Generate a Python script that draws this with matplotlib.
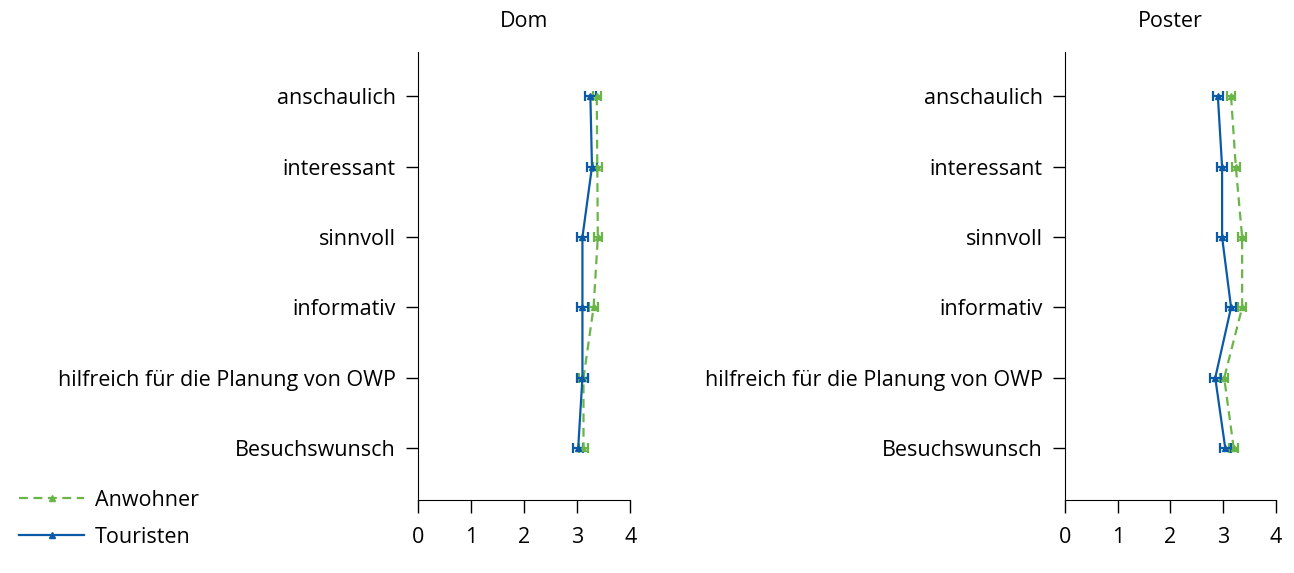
import numpy as np
import matplotlib.pyplot as plt
from matplotlib.lines import Line2D

plt.rcParams['font.family'] = ['Open Sans', 'DejaVu Sans']

# categories, top to bottom
categories = ['anschaulich', 'interessant', 'sinnvoll', 'informativ',
              'hilfreich für die Planung von OWP', 'Besuchswunsch']

# Dom
dom_anwohner = [3.37, 3.38, 3.39, 3.31, 3.12, 3.12]
dom_anwohner_err = [0.08, 0.08, 0.08, 0.08, 0.09, 0.08]
dom_touristen = [3.25, 3.28, 3.10, 3.10, 3.10, 3.02]
dom_touristen_err = [0.1, 0.1, 0.1, 0.1, 0.1, 0.1]

# Poster
poster_anwohner = [3.15, 3.24, 3.36, 3.36, 3.02, 3.20]
poster_anwohner_err = [0.08, 0.08, 0.08, 0.08, 0.08, 0.08]
poster_touristen = [2.90, 2.98, 2.98, 3.15, 2.85, 3.04]
poster_touristen_err = [0.1, 0.1, 0.1, 0.1, 0.1, 0.1]

green = '#6ab547'
blue = '#0a5aa8'
fs = 15.5

fig = plt.figure(figsize=(12.94, 5.73), dpi=100)
ax1 = fig.add_axes([0.323, 0.127, 0.164, 0.782])
ax2 = fig.add_axes([0.823, 0.127, 0.163, 0.782])

ypos = np.arange(len(categories))[::-1]

panels = [(ax1, 'Dom', dom_anwohner, dom_anwohner_err, dom_touristen, dom_touristen_err),
          (ax2, 'Poster', poster_anwohner, poster_anwohner_err, poster_touristen, poster_touristen_err)]

for ax, title, a, ae, t, te in panels:
    ax.errorbar(a, ypos, xerr=ae, color=green, ls=(0, (4, 2.5)), lw=1.6, marker='^', ms=4,
                capsize=3.5, elinewidth=1.6, capthick=1.6)
    ax.errorbar(t, ypos, xerr=te, color=blue, ls='-', lw=1.6, marker='^', ms=4,
                capsize=3.5, elinewidth=1.6, capthick=1.6)
    ax.set_xlim(0, 4)
    ax.set_ylim(-0.74, 5.63)
    ax.set_xticks([0, 1, 2, 3, 4])
    ax.set_yticks(ypos)
    ax.set_yticklabels(categories)
    ax.tick_params(labelsize=fs, length=9, width=1, pad=7)
    ax.tick_params(axis='x', pad=10)
    ax.spines['top'].set_visible(False)
    ax.spines['right'].set_visible(False)
    ax.set_title(title, fontsize=fs, pad=18)

handles = [Line2D([], [], color=green, ls=(0, (4, 2.5)), lw=1.6, marker='^', ms=5),
           Line2D([], [], color=blue, ls='-', lw=1.6, marker='^', ms=5)]
fig.legend(handles, ['Anwohner', 'Touristen'], loc='lower left',
           bbox_to_anchor=(0.0, 0.01), frameon=False, fontsize=fs,
           handlelength=3.0, handletextpad=0.5, labelspacing=0.75)

plt.savefig('out.png', dpi=100)
